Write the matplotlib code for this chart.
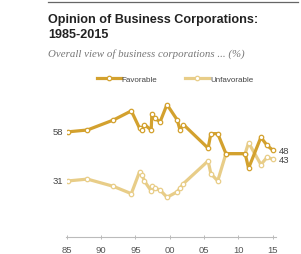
import matplotlib
matplotlib.use("Agg")
import matplotlib.pyplot as plt

# survey dates (fractional years) and shares
years = [1985.2, 1988.0, 1991.8, 1994.4, 1995.6, 1996.0, 1996.3, 1997.3, 1997.4,
         1997.8, 1998.6, 1999.6, 2001.1, 2001.5, 2002.0, 2005.6, 2006.0, 2007.0,
         2008.2, 2011.0, 2011.5, 2013.3, 2014.2, 2015.0]
favorable = [58, 59, 64.5, 69.5, 60, 59, 62, 59, 68, 65.5, 63.5, 73, 64.5, 59, 62,
             49, 57, 57, 46, 46, 38, 55, 50.5, 48]
unfavorable = [31, 32, 28, 24, 36, 34, 31, 25.5, 28, 27, 26, 22, 25, 27, 29.5,
               42, 35, 31, 46, 46, 52, 40, 44, 43]

tick_years = [1985, 1990, 1995, 2000, 2005, 2010, 2015]
tick_labels = ["85", "90", "95", "00", "05", "10", "15"]

FAV = "#D3A12E"
UNFAV = "#E8CD88"
SANS = ["Liberation Sans Narrow", "Liberation Sans", "DejaVu Sans"]

fig = plt.figure(figsize=(3.01, 2.55), dpi=100)
fig.patch.set_facecolor("white")

# top rule
fig.add_artist(plt.Line2D([48 / 301, 298 / 301], [1 - 2.5 / 255] * 2,
                          color="#666666", lw=0.9))

fig.text(48 / 301, 1 - 23.5 / 255, "Opinion of Business Corporations:",
         fontsize=9.1, fontweight="bold", family=SANS, color="#222222", va="baseline")
fig.text(48 / 301, 1 - 38.5 / 255, "1985-2015",
         fontsize=9.1, fontweight="bold", family=SANS, color="#222222", va="baseline")
fig.text(48 / 301, 1 - 57 / 255, "Overall view of business corporations ... (%)",
         fontsize=7.8, style="italic", family=["Liberation Serif", "DejaVu Serif"],
         color="#777777", va="baseline")

ax = fig.add_axes([66.5 / 301, 1 - 238.3 / 255, 209.5 / 301, 145.5 / 255])
ax.set_xlim(1984.95, 2015.5)
ax.set_ylim(0, 80)

mk = dict(marker="o", markersize=3.2, markerfacecolor="white", markeredgewidth=0.9)
ax.plot(years, unfavorable, color=UNFAV, lw=2.3, markeredgecolor=UNFAV,
        label="Unfavorable", **mk)
ax.plot(years, favorable, color=FAV, lw=2.3, markeredgecolor=FAV,
        label="Favorable", **mk)

lab = dict(fontsize=6.8, family=SANS, color="#444444", va="center")
ax.text(years[0] - 0.8, favorable[0], f"{favorable[0]:g}", ha="right", **lab)
ax.text(years[0] - 0.8, unfavorable[0], f"{unfavorable[0]:g}", ha="right", **lab)
ax.text(years[-1] + 0.9, favorable[-1], f"{favorable[-1]:g}", ha="left", **lab)
ax.text(years[-1] + 0.9, unfavorable[-1], f"{unfavorable[-1]:g}", ha="left", **lab)

for s in ["top", "right", "left"]:
    ax.spines[s].set_visible(False)
ax.spines["bottom"].set_color("#BBBBBB")
ax.spines["bottom"].set_linewidth(0.8)
ax.set_yticks([])
ax.set_xticks(tick_years)
ax.set_xticklabels(tick_labels, fontsize=6.8, family=SANS, color="#555555")
ax.tick_params(axis="x", direction="inout", length=3.5, width=0.7, color="#BBBBBB", pad=3.5)

h, l = ax.get_legend_handles_labels()
leg = fig.legend(h[::-1], l[::-1], loc="center", bbox_to_anchor=(175 / 301, 1 - 80 / 255),
                 ncol=2, frameon=False, handlelength=3.0, handletextpad=0.1,
                 columnspacing=3.4, numpoints=1, prop={"family": SANS, "size": 5.8})
for t in leg.get_texts():
    t.set_color("#444444")

fig.savefig("out.png", dpi=100, facecolor="white")
